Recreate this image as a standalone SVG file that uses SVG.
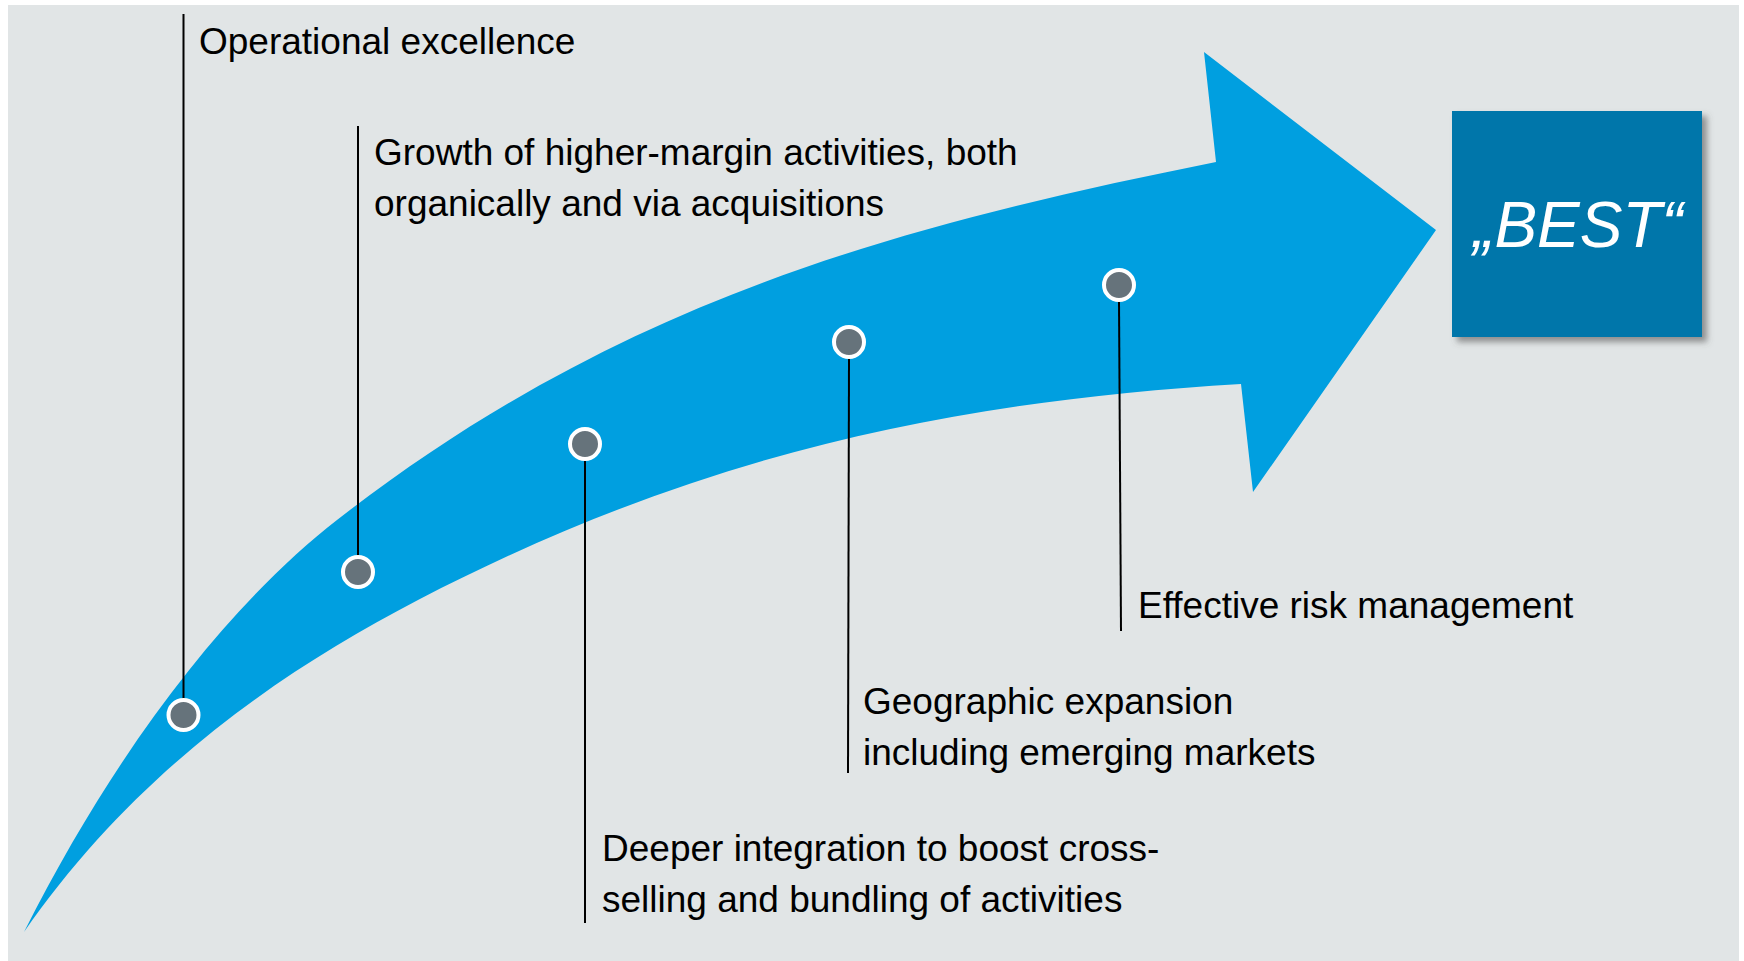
<svg xmlns="http://www.w3.org/2000/svg" width="1744" height="961" viewBox="0 0 1744 961">
<defs>
<style>
.lbl{font-family:"Liberation Sans",Arial,sans-serif;font-size:37px;fill:#000}
.lead{stroke:#000;stroke-width:2;fill:none}
.dot{fill:#66737b;stroke:#fff;stroke-width:4}
.best{font-family:"Liberation Sans",Arial,sans-serif;font-size:64px;font-style:italic;fill:#fff}
</style>
<filter id="sh" x="-10%" y="-10%" width="130%" height="130%">
<feDropShadow dx="5" dy="5" stdDeviation="3" flood-color="#555" flood-opacity="0.6"/>
</filter>
</defs>
<rect x="0" y="0" width="1744" height="961" fill="#fff"/>
<rect x="8" y="5" width="1731" height="956" fill="#e1e5e6"/>
<g id="arrow">
<path d="M24,932 C124,734 237,598 337,520 C617,301.6 896,226 1216,162 L1204,52 L1436,230 L1253,492 L1241,384 C951,401.4 698,454.4 418,600 C278,672.8 134,773.6 24,932 Z" fill="#009fe0"/>
</g>
<g id="connectors">
<line class="lead" x1="183.5" y1="14" x2="183.5" y2="700"/>
<line class="lead" x1="358" y1="126" x2="358" y2="556"/>
<line class="lead" x1="585" y1="460" x2="585" y2="923"/>
<line class="lead" x1="849" y1="358" x2="848" y2="773"/>
<line class="lead" x1="1119" y1="301" x2="1121" y2="631"/>
</g>
<g id="node1">
<circle class="dot" cx="183.5" cy="715" r="15"/>
<text class="lbl" x="199" y="54">Operational excellence</text>
</g>
<g id="node2">
<circle class="dot" cx="358" cy="572" r="15"/>
<text class="lbl" x="374" y="165">Growth of higher-margin activities, both</text>
<text class="lbl" x="374" y="216">organically and via acquisitions</text>
</g>
<g id="node3">
<circle class="dot" cx="585" cy="444" r="15"/>
<text class="lbl" x="602" y="861">Deeper integration to boost cross-</text>
<text class="lbl" x="602" y="912">selling and bundling of activities</text>
</g>
<g id="node4">
<circle class="dot" cx="849" cy="342" r="15"/>
<text class="lbl" x="863" y="714">Geographic expansion</text>
<text class="lbl" x="863" y="765">including emerging markets</text>
</g>
<g id="node5">
<circle class="dot" cx="1119" cy="285" r="15"/>
<text class="lbl" x="1138" y="618">Effective risk management</text>
</g>
<g id="best">
<rect x="1452" y="111" width="250" height="226" fill="#0076aa" filter="url(#sh)"/>
<text class="best" x="1578" y="247" text-anchor="middle">„BEST“</text>
</g>
</svg>
